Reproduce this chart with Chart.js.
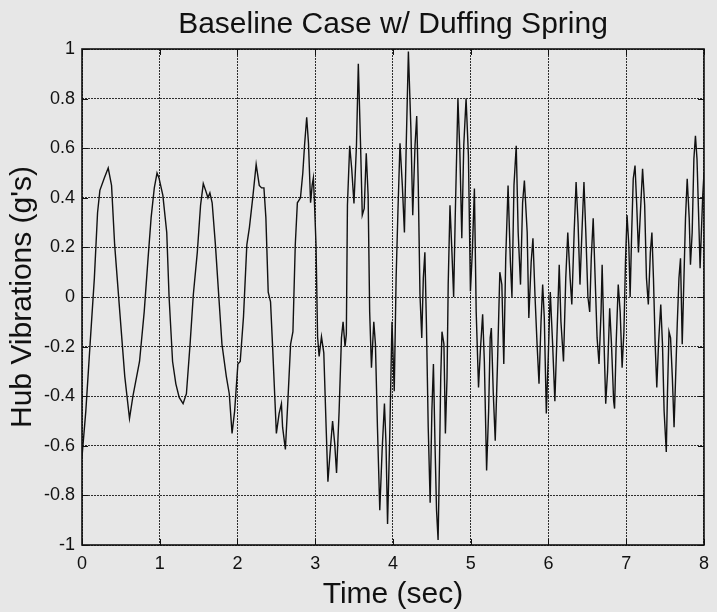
<!DOCTYPE html>
<html>
<head>
<meta charset="utf-8">
<script src="https://cdn.jsdelivr.net/npm/chart.js@4.4.1/dist/chart.umd.min.js"></script>
<style>
  html, body { margin: 0; padding: 0; background: #e7e7e7; }
  #wrap { width: 717px; height: 612px; }
</style>
</head>
<body>
<div id="wrap"><canvas id="hubChart" width="717" height="612"></canvas></div>
<script>
// time axis (sec)
const timeSec = [
  0, 0.049, 0.104, 0.159, 0.2, 0.23, 0.287, 0.337, 0.38, 0.42, 0.486, 0.55, 0.611, 0.655, 0.74, 0.8, 0.846, 0.889, 0.93, 0.965,
  0.99, 1.04, 1.09, 1.12, 1.165, 1.207, 1.25, 1.3, 1.343, 1.39, 1.432, 1.483, 1.525, 1.56, 1.59, 1.62, 1.645, 1.674, 1.716, 1.76,
  1.8, 1.856, 1.894, 1.93, 1.963, 2.005, 2.035, 2.077, 2.12, 2.153, 2.196, 2.24, 2.28, 2.31, 2.34, 2.365, 2.395, 2.425, 2.45, 2.48,
  2.5, 2.535, 2.565, 2.58, 2.616, 2.65, 2.683, 2.713, 2.743, 2.77, 2.81, 2.84, 2.862, 2.89, 2.913, 2.94, 2.96, 2.976, 2.99, 3.01,
  3.03, 3.05, 3.08, 3.11, 3.14, 3.163, 3.19, 3.223, 3.25, 3.274, 3.307, 3.337, 3.358, 3.383, 3.4, 3.414, 3.443, 3.469, 3.498, 3.53,
  3.554, 3.583, 3.605, 3.63, 3.656, 3.68, 3.7, 3.723, 3.753, 3.774, 3.8, 3.83, 3.86, 3.89, 3.91, 3.93, 3.956, 3.987, 4.016, 4.04,
  4.063, 4.09, 4.12, 4.147, 4.17, 4.198, 4.23, 4.254, 4.283, 4.305, 4.325, 4.347, 4.37, 4.39, 4.41, 4.43, 4.453, 4.478, 4.5, 4.52,
  4.54, 4.56, 4.58, 4.598, 4.614, 4.63, 4.655, 4.674, 4.695, 4.71, 4.733, 4.758, 4.78, 4.8, 4.835, 4.86, 4.885, 4.91, 4.94, 4.97,
  4.996, 5.02, 5.047, 5.07, 5.1, 5.123, 5.153, 5.175, 5.204, 5.23, 5.25, 5.265, 5.29, 5.315, 5.344, 5.374, 5.4, 5.425, 5.45, 5.48,
  5.51, 5.53, 5.556, 5.585, 5.61, 5.64, 5.667, 5.69, 5.726, 5.747, 5.777, 5.8, 5.827, 5.853, 5.878, 5.904, 5.925, 5.946, 5.972, 5.998,
  6.023, 6.053, 6.082, 6.108, 6.138, 6.16, 6.193, 6.222, 6.248, 6.278, 6.3, 6.33, 6.355, 6.38, 6.405, 6.43, 6.456, 6.48, 6.507, 6.53,
  6.55, 6.575, 6.6, 6.625, 6.65, 6.676, 6.69, 6.715, 6.736, 6.76, 6.787, 6.81, 6.838, 6.85, 6.87, 6.897, 6.922, 6.947, 6.97, 6.99,
  7.01, 7.033, 7.05, 7.07, 7.09, 7.113, 7.135, 7.157, 7.182, 7.21, 7.237, 7.26, 7.284, 7.31, 7.33, 7.35, 7.372, 7.393, 7.415, 7.444,
  7.466, 7.487, 7.515, 7.53, 7.55, 7.57, 7.593, 7.615, 7.635, 7.656, 7.678, 7.698, 7.72, 7.742, 7.762, 7.784, 7.81, 7.826, 7.848, 7.87,
  7.89, 7.91, 7.93, 7.95, 7.966, 7.984, 8
];
// hub vibrations (g's)
const hubAccel = [
  -0.645, -0.46, -0.19, 0.076, 0.34, 0.43, 0.48, 0.52, 0.45, 0.21, -0.06, -0.32, -0.49, -0.4, -0.26, -0.06, 0.14, 0.32, 0.44, 0.5,
  0.48, 0.41, 0.26, 0, -0.26, -0.35, -0.405, -0.43, -0.39, -0.19, 0.01, 0.18, 0.37, 0.457, 0.43, 0.4, 0.42, 0.38, 0.21, 0,
  -0.19, -0.32, -0.39, -0.55, -0.46, -0.27, -0.26, -0.08, 0.21, 0.28, 0.4, 0.535, 0.45, 0.44, 0.44, 0.32, 0.02, -0.02, -0.19, -0.405,
  -0.55, -0.47, -0.43, -0.525, -0.615, -0.405, -0.19, -0.14, 0.21, 0.38, 0.4, 0.5, 0.61, 0.725, 0.62, 0.38, 0.45, 0.48, 0.38, 0.21,
  -0.16, -0.24, -0.16, -0.225, -0.525, -0.745, -0.63, -0.5, -0.59, -0.71, -0.46, -0.165, -0.1, -0.2, -0.15, 0.37, 0.61, 0.517, 0.377, 0.61,
  0.94, 0.61, 0.33, 0.357, 0.58, 0.41, -0.06, -0.285, -0.1, -0.19, -0.525, -0.86, -0.62, -0.43, -0.59, -0.915, -0.59, -0.1, -0.38, 0.076,
  0.34, 0.62, 0.45, 0.26, 0.61, 0.99, 0.68, 0.33, 0.61, 0.73, 0.45, 0.01, -0.165, 0.076, 0.18, -0.11, -0.525, -0.83, -0.46, -0.27,
  -0.59, -0.86, -0.98, -0.66, -0.325, -0.14, -0.19, -0.55, -0.325, 0.05, 0.37, 0.18, 0, 0.317, 0.8, 0.585, 0.237, 0.61, 0.8, 0.57,
  0.023, 0.18, 0.437, -0.06, -0.365, -0.22, -0.07, -0.26, -0.7, -0.46, -0.165, -0.125, -0.39, -0.58, -0.27, 0.1, 0.05, -0.27, 0.156, 0.45,
  0.14, 0, 0.45, 0.61, 0.26, 0.05, 0.38, 0.47, 0.26, -0.085, 0.14, 0.237, 0, -0.19, -0.35, -0.1, 0.05, -0.085, -0.47, -0.23,
  0.02, -0.19, -0.42, -0.165, 0.13, -0.1, -0.26, 0.076, 0.26, 0.076, -0.03, 0.26, 0.464, 0.3, 0.05, 0.26, 0.464, 0.26, 0, -0.06,
  0.156, 0.317, 0.076, -0.165, -0.27, -0.06, 0.13, -0.19, -0.43, -0.3, -0.045, -0.19, -0.42, -0.45, -0.19, 0.05, -0.06, -0.285, -0.14, 0.14,
  0.33, 0.21, 0, 0.26, 0.477, 0.53, 0.37, 0.18, 0.34, 0.517, 0.37, 0.076, -0.03, 0.18, 0.26, 0.076, -0.19, -0.365, -0.19, -0.03,
  -0.19, -0.46, -0.625, -0.39, -0.14, -0.165, -0.325, -0.525, -0.325, -0.11, 0.076, 0.156, -0.19, 0.076, 0.317, 0.477, 0.317, 0.13, 0.26, 0.557,
  0.65, 0.557, 0.34, 0.116, 0.26, 0.41, 0.5
];

const xTicks = [0, 1, 2, 3, 4, 5, 6, 7, 8];
const yTicks = [-1, -0.8, -0.6, -0.4, -0.2, 0, 0.2, 0.4, 0.6, 0.8, 1];
const yTickLabels = ['-1', '-0.8', '-0.6', '-0.4', '-0.2', '0', '0.2', '0.4', '0.6', '0.8', '1'];

const FONT = "'Liberation Sans', Arial, Helvetica, sans-serif";
const INK = '#111';

// solid box round the plot plus MATLAB-style inward tick marks
const framePlugin = {
  id: 'frame',
  afterDatasetsDraw(chart) {
    const { ctx, chartArea: a, scales } = chart;
    ctx.save();
    ctx.strokeStyle = INK;
    ctx.lineWidth = 1;
    ctx.beginPath();
    scales.x.ticks.forEach(t => {
      const px = Math.round(scales.x.getPixelForValue(t.value)) + 0.5;
      ctx.moveTo(px, a.bottom); ctx.lineTo(px, a.bottom - 6);
      ctx.moveTo(px, a.top); ctx.lineTo(px, a.top + 6);
    });
    scales.y.ticks.forEach(t => {
      const py = Math.round(scales.y.getPixelForValue(t.value)) + 0.5;
      ctx.moveTo(a.left, py); ctx.lineTo(a.left + 6, py);
      ctx.moveTo(a.right, py); ctx.lineTo(a.right - 6, py);
    });
    ctx.stroke();
    ctx.lineWidth = 1.6;
    ctx.strokeRect(a.left, a.top, a.right - a.left, a.bottom - a.top);
    ctx.restore();
  }
};

new Chart(document.getElementById('hubChart'), {
  type: 'line',
  data: {
    datasets: [{
      data: timeSec.map((t, i) => ({ x: t, y: hubAccel[i] })),
      borderColor: INK,
      borderWidth: 1.4,
      pointRadius: 0,
      tension: 0,
      fill: false
    }]
  },
  options: {
    responsive: false,
    animation: false,
    layout: { padding: { left: 0, right: 7, top: 0, bottom: 0 } },
    plugins: {
      legend: { display: false },
      tooltip: { enabled: false },
      title: {
        display: true,
        fullSize: false,
        text: 'Baseline Case w/ Duffing Spring',
        color: INK,
        font: { family: FONT, size: 30, weight: 'normal' },
        padding: { top: 7, bottom: 6 }
      }
    },
    scales: {
      x: {
        type: 'linear',
        min: 0,
        max: 8,
        afterBuildTicks: s => { s.ticks = xTicks.map(v => ({ value: v })); },
        afterFit: s => { s.height = 67; },
        ticks: {
          color: INK,
          font: { family: FONT, size: 18 },
          padding: 8,
          maxRotation: 0,
          callback: v => String(v)
        },
        grid: { color: 'rgba(0,0,0,0.8)', lineWidth: 1, drawTicks: false },
        border: { display: false, dash: [2, 1] },
        title: {
          display: true,
          text: 'Time (sec)',
          color: INK,
          font: { family: FONT, size: 30 },
          padding: { top: 0, bottom: -1 }
        }
      },
      y: {
        type: 'linear',
        min: -1,
        max: 1,
        afterBuildTicks: s => { s.ticks = yTicks.map(v => ({ value: v })); },
        afterFit: s => { s.width = 82; },
        ticks: {
          color: INK,
          font: { family: FONT, size: 18 },
          padding: 7,
          callback: v => yTickLabels[yTicks.findIndex(t => Math.abs(t - v) < 1e-9)]
        },
        grid: { color: 'rgba(0,0,0,0.8)', lineWidth: 1, drawTicks: false },
        border: { display: false, dash: [2, 1] },
        title: {
          display: true,
          text: "Hub Vibrations (g's)",
          color: INK,
          font: { family: FONT, size: 30 },
          padding: { top: 5, bottom: 0 }
        }
      }
    }
  },
  plugins: [framePlugin]
});
</script>
</body>
</html>
